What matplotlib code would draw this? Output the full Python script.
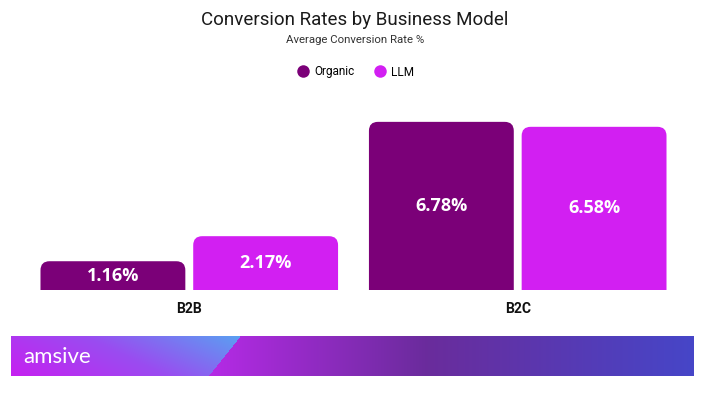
#!/usr/bin/env python3
# -*- coding: utf-8 -*-
"""Conversion Rates by Business Model - grouped bar chart with rounded tops"""

import numpy as np
import matplotlib
matplotlib.use('Agg')
import matplotlib.pyplot as plt
from matplotlib.patches import FancyBboxPatch
from matplotlib.lines import Line2D

# 数据
categories = ['B2B', 'B2C']
series_names = ['Organic', 'LLM']
organic = [1.16, 6.78]
llm = [2.17, 6.58]
colors = ['#7B0078', '#D21FF2']

W, H = 710, 398
fig = plt.figure(figsize=(W / 100, H / 100), dpi=100)

# 主坐标轴：像素位置换算成 figure 坐标
ax_left, ax_right = 40, 667
base_y = 290
px_per_unit = 24.8
ymax = 7.0
ax = fig.add_axes([ax_left / W, (H - base_y) / H,
                   (ax_right - ax_left) / W, ymax * px_per_unit / H])
ax.set_xlim(-0.4545, 1.4545)
ax.set_ylim(0, ymax)
ax.axis('off')

bar_w = 0.441
offset = 0.2325
x_px_per_unit = (ax_right - ax_left) / (1.4545 + 0.4545)
aspect = x_px_per_unit / px_per_unit
radius = 9 / x_px_per_unit

x = np.arange(len(categories))
for values, color, sign in [(organic, colors[0], -1), (llm, colors[1], 1)]:
    for xi, v in zip(x, values):
        left = xi + sign * offset - bar_w / 2
        patch = FancyBboxPatch((left, -1), bar_w, v + 1,
                               boxstyle=f'round,pad=0,rounding_size={radius}',
                               mutation_aspect=aspect,
                               facecolor=color, edgecolor='none')
        ax.add_patch(patch)
        # 数值标签
        ax.text(xi + sign * offset, v / 2, f'{v:.2f}%', ha='center',
                va='center', color='white', fontsize=13, fontweight='bold',
                family='Open Sans')

# 分类标签
for xi, cat in zip(x, categories):
    fig.text((ax_left + (xi + 0.4545) * x_px_per_unit) / W, 1 - 309 / H, cat,
             ha='center', va='center', fontsize=10, fontweight='bold',
             family='Roboto', color='#111111')

# 标题
fig.text(0.5, 1 - 20 / H, 'Conversion Rates by Business Model', ha='center',
         va='center', fontsize=13.5, family='Roboto', color='#1a1a1a')
fig.text(0.5, 1 - 40 / H, 'Average Conversion Rate %', ha='center',
         va='center', fontsize=8.2, family='Roboto', color='#333333')

# 图例
handles = [Line2D([], [], marker='o', linestyle='none', markersize=9,
                  markerfacecolor=c, markeredgecolor='none') for c in colors]
fig.legend(handles, series_names, loc='center', bbox_to_anchor=(0.5, 1 - 72 / H),
           ncol=2, frameon=False, handletextpad=0.35, columnspacing=1.6,
           handlelength=1.2, prop={'family': 'Roboto', 'size': 8.5})

# 底部横幅
bx0, bx1, by0, by1 = 11, 694, 336, 376
bw, bh = bx1 - bx0, by1 - by0
banner = fig.add_axes([bx0 / W, (H - by1) / H, bw / W, bh / H])
banner.axis('off')
xx, yy = np.meshgrid(np.arange(bw), np.arange(bh))


def hex2rgb(h):
    h = h.lstrip('#')
    return np.array([int(h[i:i + 2], 16) / 255 for i in (0, 2, 4)])


def lerp(c0, c1, t):
    t = np.clip(t, 0, 1)[..., None]
    return c0 * (1 - t) + c1 * t


# 左段：品红 -> 紫 -> 浅蓝（对角渐变）
split = (240 - bx0) - (31 * yy / (bh - 1))
t_left = (xx / split.max() * 0.85 + (1 - yy / (bh - 1)) * 0.3) / 1.15
c_l0, c_l1, c_l2 = hex2rgb('#C620F0'), hex2rgb('#9A4CF0'), hex2rgb('#5AA0F2')
left_col = np.where((t_left < 0.5)[..., None], lerp(c_l0, c_l1, t_left / 0.5),
                    lerp(c_l1, c_l2, (t_left - 0.5) / 0.5))
# 右段：品红 -> 深紫 -> 蓝紫
tr = (xx - (209 - bx0)) / (bw - (209 - bx0))
c_a, c_b, c_c = hex2rgb('#B52AE6'), hex2rgb('#6A2C9C'), hex2rgb('#4646C8')
right_col = np.where((tr < 0.45)[..., None], lerp(c_a, c_b, tr / 0.45),
                     lerp(c_b, c_c, (tr - 0.45) / 0.55))
img = np.where((xx < split)[..., None], left_col, right_col)
banner.imshow(img, aspect='auto', interpolation='bilinear',
              extent=(0, bw, bh, 0))
banner.set_xlim(0, bw)
banner.set_ylim(bh, 0)
banner.text(12, bh / 2 + 1, 'amsive', color='white', fontsize=16,
            va='center', ha='left', family='Lato')

plt.savefig('out.png', dpi=100)
plt.close()
